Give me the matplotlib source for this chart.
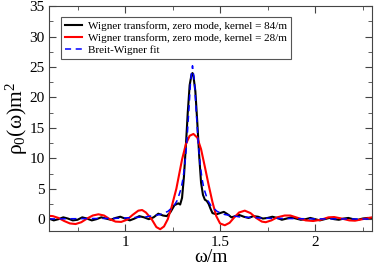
import matplotlib
matplotlib.use("Agg")
import matplotlib.pyplot as plt
from matplotlib.ticker import MultipleLocator, FuncFormatter

plt.rcParams['font.family'] = ['Liberation Serif', 'DejaVu Serif']
plt.rcParams['mathtext.fontset'] = 'custom'
plt.rcParams['mathtext.rm'] = 'Liberation Serif'
plt.rcParams['mathtext.it'] = 'Liberation Serif'

# kernel = 84/m
w_84 = [0.60, 0.625, 0.65, 0.675, 0.70, 0.725, 0.75, 0.775, 0.80, 0.825, 0.85, 0.875,
        0.90, 0.925, 0.95, 0.975, 1.0, 1.025, 1.05, 1.075, 1.10, 1.125, 1.15, 1.175,
        1.20, 1.22, 1.24, 1.26, 1.28, 1.29, 1.30, 1.31, 1.32, 1.33, 1.34, 1.35, 1.355,
        1.36, 1.37, 1.38, 1.39, 1.40, 1.41, 1.42, 1.43, 1.44, 1.45, 1.46, 1.48, 1.50,
        1.52, 1.54, 1.56, 1.58, 1.60, 1.625, 1.65, 1.675, 1.70, 1.725, 1.75, 1.775,
        1.80, 1.825, 1.85, 1.875, 1.90, 1.925, 1.95, 1.975, 2.0, 2.025, 2.05, 2.075,
        2.1, 2.125, 2.15, 2.175, 2.2, 2.225, 2.25, 2.275, 2.3]
rho_84 = [0.1, -0.2, 0.0, 0.3, 0.1, -0.2, -0.1, 0.3, 0.1, -0.2, 0.0, 0.3,
          0.1, -0.1, 0.2, 0.4, 0.1, -0.2, 0.1, 0.5, 0.3, 0.0, 0.3, 0.9,
          0.6, 0.5, 1.2, 2.3, 2.6, 2.4, 3.5, 7.0, 12.0, 17.5, 22.0, 23.8, 24.0,
          23.5, 21.0, 16.0, 10.5, 6.0, 4.0, 3.2, 3.0, 2.5, 1.7, 1.0, 0.8, 1.0,
          1.2, 0.8, 0.3, 0.5, 0.7, 0.4, 0.2, 0.5, 0.4, 0.1, 0.2, 0.4,
          0.2, -0.1, 0.1, 0.3, 0.1, -0.1, 0.0, 0.2, 0.0, -0.2, 0.0, 0.2,
          0.0, -0.1, 0.1, 0.2, 0.0, -0.1, 0.1, 0.2, 0.2]

# kernel = 28/m
w_28 = [0.60, 0.62, 0.65, 0.68, 0.71, 0.74, 0.77, 0.80, 0.83, 0.86, 0.89, 0.92,
        0.95, 0.98, 1.01, 1.04, 1.07, 1.09, 1.11, 1.14, 1.165, 1.185, 1.205, 1.225,
        1.245, 1.27, 1.30, 1.32, 1.34, 1.36, 1.38, 1.40, 1.42, 1.44, 1.46, 1.48,
        1.50, 1.525, 1.55, 1.575, 1.60, 1.63, 1.66, 1.69, 1.72, 1.74, 1.77, 1.80,
        1.84, 1.87, 1.91, 1.95, 1.99, 2.03, 2.07, 2.10, 2.14, 2.18, 2.21, 2.25, 2.30]
rho_28 = [0.55, 0.5, 0.2, -0.3, -0.7, -0.8, -0.5, 0.1, 0.6, 0.8, 0.6, 0.0,
          -0.4, -0.45, -0.1, 0.7, 1.4, 1.5, 1.1, 0.0, -1.3, -1.65, -1.2, 0.0,
          2.0, 5.0, 9.8, 12.3, 13.7, 14.0, 13.4, 11.5, 8.6, 5.6, 2.8, 0.5,
          -0.7, -1.0, -0.6, 0.3, 1.1, 1.4, 1.0, 0.2, -0.4, -0.5, -0.2, 0.3,
          0.6, 0.6, 0.2, -0.2, -0.3, -0.1, 0.3, 0.35, 0.1, -0.2, -0.25, 0.0, 0.3]

# Breit-Wigner fit
w_bw = [0.60, 0.955, 1.105, 1.185, 1.225, 1.255, 1.275, 1.295, 1.305, 1.315, 1.325,
        1.335, 1.345, 1.355, 1.365, 1.375, 1.385, 1.395, 1.405, 1.415, 1.435, 1.455,
        1.485, 1.525, 1.605, 1.755, 2.0, 2.3]
rho_bw = [0.04, 0.14, 0.36, 0.76, 1.27, 2.08, 3.1, 5.04, 6.67, 9.07, 12.6,
          17.45, 22.7, 25.2, 22.7, 17.45, 12.6, 9.07, 6.67, 5.04, 3.1, 2.08,
          1.27, 0.76, 0.36, 0.14, 0.05, 0.025]

fig = plt.figure(figsize=(3.74, 2.65), dpi=100)
ax = fig.add_axes([0.131, 0.127, 0.864, 0.850])

ax.plot(w_84, rho_84, color='black', lw=1.5,
        label='Wigner transform, zero mode, kernel = 84/m')
ax.plot(w_28, rho_28, color='red', lw=1.5,
        label='Wigner transform, zero mode, kernel = 28/m')
ax.plot(w_bw, rho_bw, color='blue', lw=1.1, dashes=(4, 3),
        label='Breit-Wigner fit')

ax.set_xlim(0.6, 2.3)
ax.set_ylim(-2, 35)
ax.xaxis.set_major_locator(MultipleLocator(0.5))
ax.xaxis.set_minor_locator(MultipleLocator(0.25))
ax.xaxis.set_major_formatter(FuncFormatter(lambda v, p: f'{v:g}'))
ax.yaxis.set_major_locator(MultipleLocator(5))
ax.yaxis.set_minor_locator(MultipleLocator(2.5))
ax.tick_params(which='both', direction='in', top=True, right=True, labelsize=11,
               color='#444444', pad=3)
ax.tick_params(which='major', length=5)
ax.tick_params(which='minor', length=3)
for s in ax.spines.values():
    s.set_color('#444444')

ax.set_xlabel('ω/m', fontsize=14, labelpad=0)
ax.set_ylabel(r'ρ$_0$(ω)m$^2$', fontsize=15.5, labelpad=0)

leg = ax.legend(loc='upper left', fontsize=8, handlelength=1.5, handletextpad=0.6,
                borderpad=0.35, labelspacing=0.2, fancybox=False, framealpha=1,
                bbox_to_anchor=(0.02, 0.975))
leg.get_frame().set_edgecolor('#555555')
leg.get_frame().set_linewidth(0.8)

fig.savefig('out.png', dpi=100)
